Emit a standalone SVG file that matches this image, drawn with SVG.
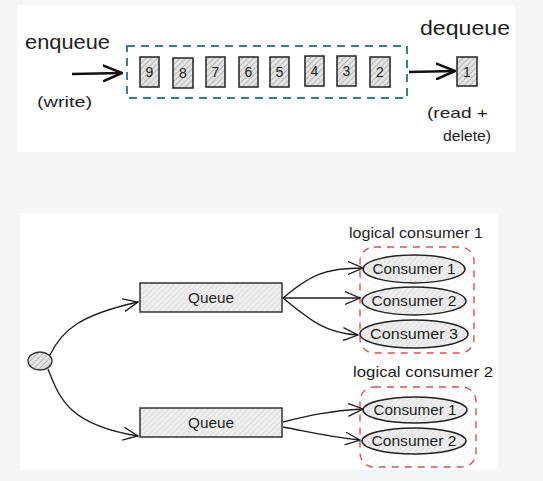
<svg xmlns="http://www.w3.org/2000/svg" width="543" height="481" viewBox="0 0 543 481">
<defs>
<pattern id="hatch" patternUnits="userSpaceOnUse" width="4" height="4" patternTransform="rotate(45)">
<rect width="4" height="4" fill="#e4e4e4"/>
<line x1="0" y1="0" x2="0" y2="4" stroke="#8a8a8a" stroke-width="1"/>
</pattern>
<pattern id="hatchLight" patternUnits="userSpaceOnUse" width="4" height="4" patternTransform="rotate(45)">
<rect width="4" height="4" fill="#eeeeee"/>
<line x1="0" y1="0" x2="0" y2="4" stroke="#d0d0d0" stroke-width="1"/>
</pattern>
<pattern id="hatchFaint" patternUnits="userSpaceOnUse" width="5" height="5" patternTransform="rotate(45)">
<rect width="5" height="5" fill="#ffffff"/>
<line x1="0" y1="0" x2="0" y2="5" stroke="#ececec" stroke-width="1"/>
</pattern>
<marker id="arr" viewBox="0 0 16 14" refX="15" refY="7" markerWidth="16" markerHeight="14" markerUnits="userSpaceOnUse" orient="auto">
<path d="M0,0.5 L15,7 L0,13.5" fill="none" stroke="#1e1e1e" stroke-width="1.3"/>
</marker>
<marker id="arrBig" viewBox="0 0 20 18" refX="19" refY="9" markerWidth="20" markerHeight="18" markerUnits="userSpaceOnUse" orient="auto">
<path d="M0,1 L19,9 L0,17" fill="none" stroke="#111" stroke-width="2.5" stroke-linecap="round"/>
</marker>
</defs>
<style>
text{font-family:"Liberation Sans","DejaVu Sans",sans-serif;fill:#1e1e1e}
.lbl{font-size:21px}
.small{font-size:15px}
.num{font-size:14px;text-anchor:middle}
.box{fill:url(#hatch);stroke:#222;stroke-width:1.5}
.q{fill:url(#hatchLight);stroke:#333;stroke-width:1.5}
.cons{fill:url(#hatchLight);stroke:#222;stroke-width:1.5}
.cn{font-size:14px;text-anchor:middle}
.edge{fill:none;stroke:#1e1e1e;stroke-width:1.4}
.thick{fill:none;stroke:#111;stroke-width:2.5}
.group{fill:url(#hatchFaint);stroke:#d9534f;stroke-width:1.4;stroke-dasharray:7 6}
</style>
<rect x="0" y="0" width="543" height="481" fill="#f4f5f7"/>
<rect x="17" y="5" width="498" height="147" fill="#ffffff"/>
<rect x="20" y="213" width="478" height="257" fill="#ffffff"/>

<!-- top diagram -->
<g id="enqueue-label">
<text class="lbl" x="25" y="49" textLength="85" lengthAdjust="spacingAndGlyphs">enqueue</text>
<text class="small" x="37" y="107" textLength="55" lengthAdjust="spacingAndGlyphs">(write)</text>
</g>
<g id="dequeue-label">
<text class="lbl" x="420" y="35" textLength="90" lengthAdjust="spacingAndGlyphs">dequeue</text>
<text class="small" x="427" y="118" textLength="61" lengthAdjust="spacingAndGlyphs">(read +</text>
<text class="small" x="443" y="141" textLength="48" lengthAdjust="spacingAndGlyphs">delete)</text>
</g>
<g id="queue-buffer">
<rect x="127" y="46" width="280" height="52" fill="none" stroke="#3d7f86" stroke-width="2" stroke-dasharray="8 6"/>
</g>
<g id="item-9"><rect class="box" x="140" y="57" width="19" height="30"/><text class="num" x="149.5" y="77">9</text></g>
<g id="item-8"><rect class="box" x="173" y="58" width="20" height="30"/><text class="num" x="183" y="78">8</text></g>
<g id="item-7"><rect class="box" x="206" y="57" width="19" height="30"/><text class="num" x="215.5" y="77">7</text></g>
<g id="item-6"><rect class="box" x="239" y="57" width="19" height="30"/><text class="num" x="248.5" y="77">6</text></g>
<g id="item-5"><rect class="box" x="270" y="57" width="19" height="30"/><text class="num" x="279.5" y="77">5</text></g>
<g id="item-4"><rect class="box" x="305" y="56" width="19" height="30"/><text class="num" x="314.5" y="76">4</text></g>
<g id="item-3"><rect class="box" x="337" y="56" width="19" height="30"/><text class="num" x="346.5" y="76">3</text></g>
<g id="item-2"><rect class="box" x="370" y="57" width="20" height="30"/><text class="num" x="380" y="77">2</text></g>
<g id="item-1"><rect class="box" x="457" y="57" width="20" height="29"/><text class="num" x="467" y="77">1</text></g>

<g id="top-connectors">
<path class="thick" d="M72,74 L122,73" marker-end="url(#arrBig)"/>
<path class="thick" d="M409,72 L455,71" marker-end="url(#arrBig)"/>
</g>

<!-- bottom diagram -->
<g id="producer"><ellipse cx="40" cy="361" rx="12" ry="9" fill="url(#hatch)" stroke="#333" stroke-width="1.3"/></g>
<g id="queue-1"><rect class="q" x="140" y="283" width="142" height="29"/><text class="cn" x="211" y="303" textLength="46" lengthAdjust="spacingAndGlyphs">Queue</text></g>
<g id="queue-2"><rect class="q" x="140" y="408" width="142" height="29"/><text class="cn" x="211" y="428" textLength="46" lengthAdjust="spacingAndGlyphs">Queue</text></g>

<g id="logical-consumer-1">
<text class="small" x="349" y="238" textLength="134" lengthAdjust="spacingAndGlyphs">logical consumer 1</text>
<rect class="group" x="360" y="247" width="114" height="106" rx="14"/>
</g>
<g id="logical-consumer-2">
<text class="small" x="353" y="377" textLength="140" lengthAdjust="spacingAndGlyphs">logical consumer 2</text>
<rect class="group" x="360" y="387" width="116" height="80" rx="14"/>
</g>
<g id="lc1-consumer-1"><ellipse class="cons" cx="414" cy="269" rx="51" ry="14"/><text class="cn" x="414" y="274" textLength="83" lengthAdjust="spacingAndGlyphs">Consumer 1</text></g>
<g id="lc1-consumer-2"><ellipse class="cons" cx="414" cy="301" rx="52" ry="14"/><text class="cn" x="414" y="306" textLength="85" lengthAdjust="spacingAndGlyphs">Consumer 2</text></g>
<g id="lc1-consumer-3"><ellipse class="cons" cx="414" cy="334" rx="54" ry="14"/><text class="cn" x="414" y="339" textLength="88" lengthAdjust="spacingAndGlyphs">Consumer 3</text></g>
<g id="lc2-consumer-1"><ellipse class="cons" cx="415" cy="410" rx="52" ry="13"/><text class="cn" x="415" y="415" textLength="83" lengthAdjust="spacingAndGlyphs">Consumer 1</text></g>
<g id="lc2-consumer-2"><ellipse class="cons" cx="414" cy="441" rx="52" ry="13"/><text class="cn" x="414" y="446" textLength="85" lengthAdjust="spacingAndGlyphs">Consumer 2</text></g>

<g id="connectors">
<path class="edge" d="M50,355 C62,330 80,315 138,302" marker-end="url(#arr)"/>
<path class="edge" d="M48,369 C60,400 70,425 138,436" marker-end="url(#arr)"/>
<path class="edge" d="M283,298 C310,275 325,268 363,268" marker-end="url(#arr)"/>
<path class="edge" d="M283,298 L360,298" marker-end="url(#arr)"/>
<path class="edge" d="M283,298 C310,320 325,333 358,335" marker-end="url(#arr)"/>
<path class="edge" d="M283,422 C310,415 330,411 363,409" marker-end="url(#arr)"/>
<path class="edge" d="M283,427 C310,432 330,437 360,440" marker-end="url(#arr)"/>
</g>
</svg>
